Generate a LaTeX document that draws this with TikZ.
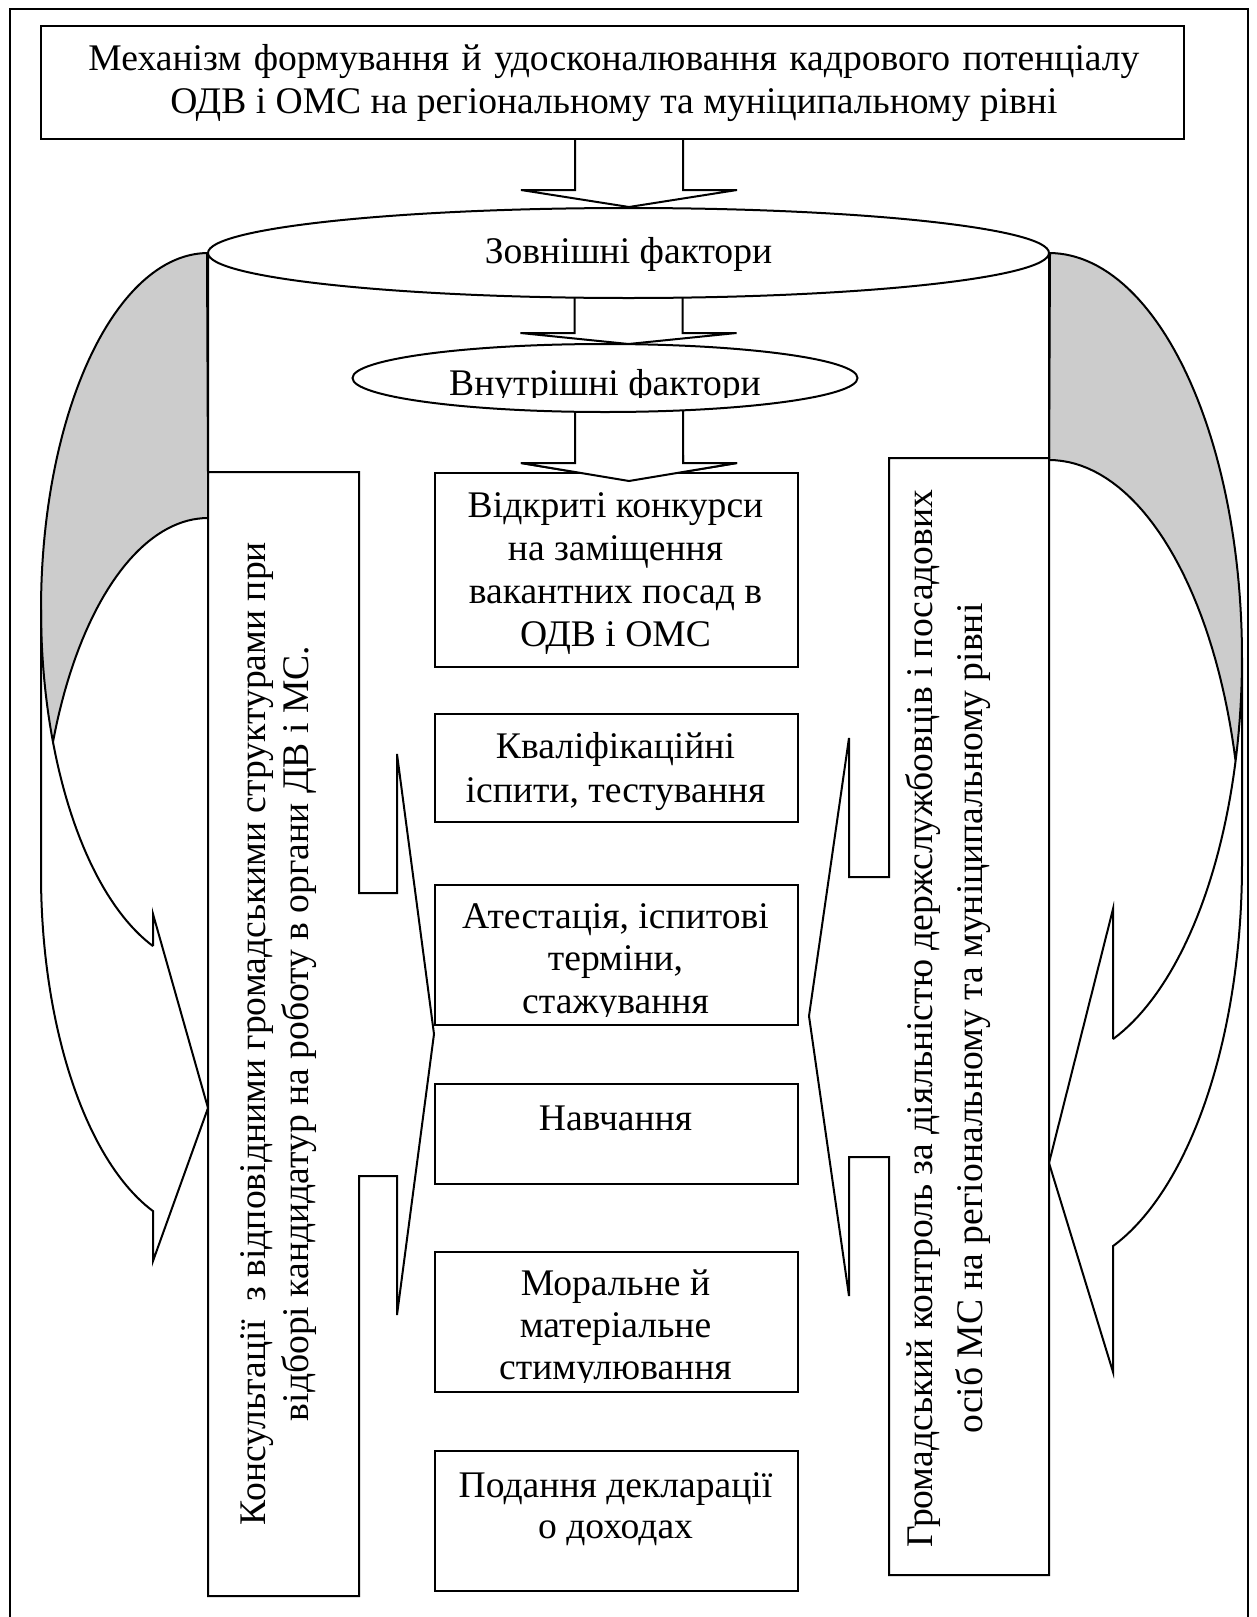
\documentclass[tikz,border=0pt]{standalone}
\usepackage{fontspec}
\setmainfont{Liberation Serif}
\usetikzlibrary{shapes.geometric}
\definecolor{backshade}{HTML}{CCCCCC}
% centred lines, the first baseline on the node's base anchor
\newcommand{\linesat}[2]{{\fontsize{37.6}{#1}\selectfont\begin{tabular}[t]{@{}c@{}}#2\end{tabular}}}
\newcommand{\blockdown}[4]{% centre x, top y, wing y, tip y
  \filldraw[flowarrow] (#1-54,#2) -- (#1-54,#3) -- (#1-108,#3) -- (#1,#4)
    -- (#1+108,#3) -- (#1+54,#3) -- (#1+54,#2);}
\begin{document}
\begin{tikzpicture}[x=1pt,y=-1pt,line width=2pt,
  box/.style={draw,fill=white,rectangle,inner sep=0pt,anchor=north west},
  oval/.style={draw,fill=white,ellipse,inner sep=0pt},
  label/.style={inner sep=0pt,anchor=base},
  flowarrow/.style={draw,fill=white,line join=miter}]
\useasboundingbox (0,0) rectangle (1257,1617);

% frame
\draw (10,1617) -- (10,9) -- (1248,9) -- (1248,1617);

% left curved arrow: two ellipses shifted vertically
\fill[backshade] plot[domain=270:158.18,samples=60] ({208+167*cos(\x)},{609.5+356.5*sin(\x)})
  -- plot[domain=201.82:270,samples=40] ({208+167*cos(\x)},{874.5+356.5*sin(\x)}) -- cycle;
\fill[white] plot[domain=180:109.23,samples=50] ({208+167*cos(\x)},{609.5+356.5*sin(\x)})
  -- (153,914) -- (208,1108) -- (153,1261)
  -- plot[domain=109.23:180,samples=50] ({208+167*cos(\x)},{874.5+356.5*sin(\x)}) -- cycle;
\draw plot[domain=109.23:270,samples=100] ({208+167*cos(\x)},{609.5+356.5*sin(\x)})
  -- (208,518) -- plot[domain=270:201.82,samples=40] ({208+167*cos(\x)},{874.5+356.5*sin(\x)});
\coordinate (ltip) at (208,1108);
\draw (153,946.1) -- (153,914) -- (ltip) -- (153,1261)
  -- plot[domain=109.23:180,samples=50] ({208+167*cos(\x)},{874.5+356.5*sin(\x)}) -- (41,609.5);

% right curved arrow
\fill[backshade] plot[domain=-90:14.83,samples=60] ({1049+193*cos(\x)},{657.5+404.5*sin(\x)})
  -- plot[domain=-14.83:-90,samples=40] ({1049+193*cos(\x)},{864.5+404.5*sin(\x)}) -- cycle;
\fill[white] plot[domain=0:70.63,samples=50] ({1049+193*cos(\x)},{657.5+404.5*sin(\x)})
  -- (1113,909) -- (1049,1163) -- (1113,1372)
  -- plot[domain=70.63:0,samples=50] ({1049+193*cos(\x)},{864.5+404.5*sin(\x)}) -- cycle;
\draw plot[domain=70.63:-90,samples=100] ({1049+193*cos(\x)},{657.5+404.5*sin(\x)})
  -- (1049,460) -- plot[domain=-90:-14.83,samples=40] ({1049+193*cos(\x)},{864.5+404.5*sin(\x)});
\coordinate (rtip) at (1049,1163);
\draw (1113,1039.1) -- (1113,909) -- (rtip) -- (1113,1372)
  -- plot[domain=70.63:0,samples=50] ({1049+193*cos(\x)},{864.5+404.5*sin(\x)}) -- (1242,657.5);

% title
\blockdown{629}{130}{190}{207}
\node[box,minimum width=1143,minimum height=113] (tb) at (40,25) {};

% cylinder with the factor ellipses
\blockdown{628.5}{290}{333}{344}
\node[oval,minimum width=841,minimum height=90] (ext) at (628.5,253) {};
\draw (ext.west) -- (208,472);
\draw (ext.east) -- (1049,458);
\blockdown{629}{405}{463}{481}
\node[oval,minimum width=505,minimum height=68] (int) at (605,378) {};

% side callouts
\draw[fill=white] (208,472) -- (359,472) -- (359,893) -- (397,893) -- (397,754)
  -- (434,1034) -- (397,1315) -- (397,1176) -- (359,1176) -- (359,1596) -- (208,1596) -- cycle;
\draw[fill=white] (889,458) -- (1049,458) -- (1049,1575) -- (889,1575) -- (889,1157)
  -- (849,1157) -- (849,1296) -- (809,1016) -- (849,738) -- (849,877) -- (889,877) -- cycle;

% central steps
\node[box,minimum width=363,minimum height=194] (b1) at (434,472) {};
\blockdown{629}{455}{463}{481}
\node[box,minimum width=363,minimum height=108] (b2) at (434,713) {};
\node[box,minimum width=363,minimum height=140] (b3) at (434,884) {};
\node[box,minimum width=363,minimum height=100] (b4) at (434,1083) {};
\node[box,minimum width=363,minimum height=140] (b5) at (434,1251) {};
\node[box,minimum width=363,minimum height=140] (b6) at (434,1450) {};

% texts
\node[label] (tbt) at (614,70.5) {\linesat{42.5}{{\spaceskip=12.5pt Механізм формування й удосконалювання кадрового потенціалу}\\ОДВ і ОМС на регіональному та муніципальному рівні}};
\node[label] (extt) at (628.5,263) {\linesat{43}{Зовнішні фактори}};
\begin{scope}
  \clip (360,340) rectangle (850,397);
  \node[label] (intt) at (605,395) {\linesat{43}{Внутрішні фактори}};
\end{scope}
\node[label] (b1t) at (615.5,517) {\linesat{43}{Відкриті конкурси\\на заміщення\\вакантних посад в\\ОДВ і ОМС}};
\node[label] (b2t) at (615.5,758) {\linesat{44}{Кваліфікаційні\\іспити, тестування}};
\begin{scope}
  \clip (436,886) rectangle (795,1016);
  \node[label] (b3t) at (615.5,928) {\linesat{42.5}{Атестація, іспитові\\терміни,\\стажування}};
\end{scope}
\node[label] (b4t) at (615.5,1130) {\linesat{43}{Навчання}};
\begin{scope}
  \clip (436,1253) rectangle (795,1382);
  \node[label] (b5t) at (615.5,1295) {\linesat{42}{Моральне й\\матеріальне\\стимулювання}};
\end{scope}
\node[label] (b6t) at (615.5,1497) {\linesat{41}{Подання декларації\\о доходах}};
\node[label,rotate=90] (lt) at (265,1033.5) {\linesat{43}{Консультації\ \ з відповідними громадськими структурами при\\відборі кандидатур на роботу в органи ДВ і МС.}};
\node[label,rotate=90] (rt) at (932,1018.5) {\linesat{50}{Громадський контроль за діяльністю держслужбовців і посадових\\осіб МС на регіональному та муніципальному рівні}};
\end{tikzpicture}
\end{document}
